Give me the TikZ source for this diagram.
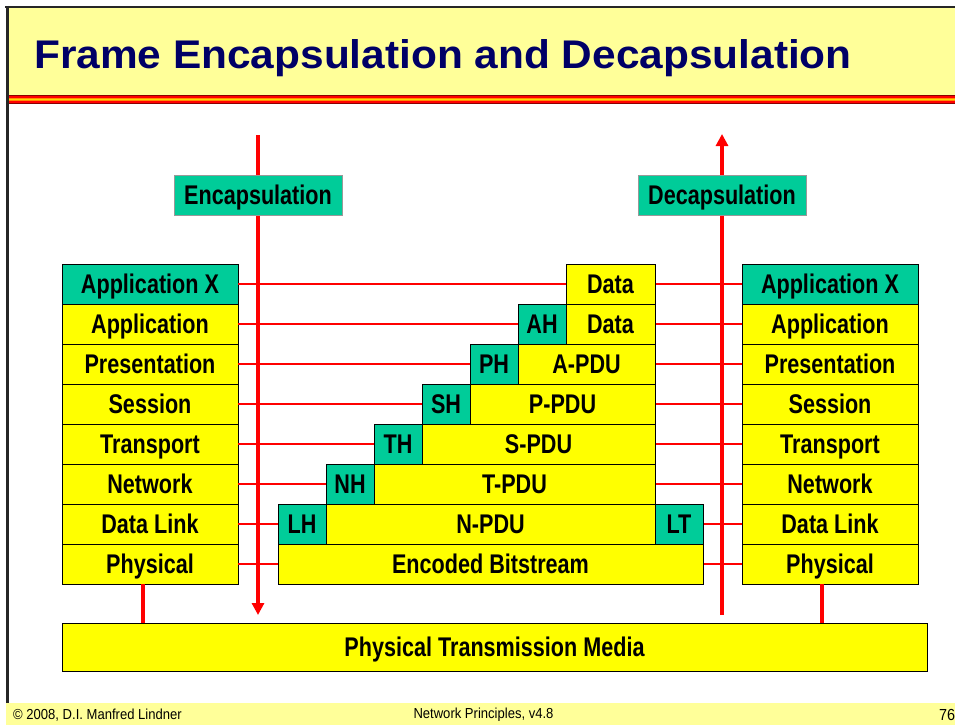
\documentclass[tikz,border=0pt]{standalone}
\usepackage{fontspec}
\usetikzlibrary{arrows.meta}
\newfontfamily\titlefont[FakeStretch=1.06]{Liberation Sans}
\newfontfamily\narfont[FakeStretch=0.8]{Liberation Sans}
\newfontfamily\footfont[FakeStretch=0.9]{Liberation Sans}
\definecolor{ybox}{HTML}{FFFF00}
\definecolor{tealbox}{HTML}{00CC99}
\definecolor{paleyellow}{HTML}{FFFF99}
\definecolor{navytitle}{HTML}{000066}
\definecolor{darkred}{HTML}{8B0000}
\definecolor{stripeorange}{HTML}{FF8C00}
\definecolor{stripeyellow}{HTML}{FFD700}
\tikzset{
  cellbase/.style={draw=black, line width=1pt, inner sep=0pt, outer sep=0pt,
    minimum height=40pt, text height=24.4pt, text depth=5pt,
    font=\narfont\bfseries\fontsize{27}{30}\selectfont, text=black},
  ycell/.style={cellbase, fill=ybox},
  tcell/.style={cellbase, fill=tealbox},
  labelbox/.style={cellbase, fill=tealbox, draw=black!40},
  thinlink/.style={draw=red, line width=1.3pt},
  flowarrow/.style={draw=red, line width=4pt, -{Triangle[width=12pt,length=12pt]}},
  medialink/.style={draw=red, line width=4pt},
  foottext/.style={font=\footfont\fontsize{14.5}{16}\selectfont, text=black, inner sep=0pt}
}
\begin{document}
\begin{tikzpicture}[x=1pt,y=-1pt]
\useasboundingbox (0,0) rectangle (955,725);
% frame
\fill[white] (0,0) rectangle (955,725);
\fill[paleyellow] (8,8) rectangle (955,95);
\fill[darkred] (8,95) rectangle (955,96.2);
\fill[red] (8,96.2) rectangle (955,97.6);
\fill[stripeorange] (8,97.6) rectangle (955,98.8);
\fill[stripeyellow] (8,98.8) rectangle (955,100);
\fill[stripeorange] (8,100) rectangle (955,101.2);
\fill[red] (8,101.2) rectangle (955,102.6);
\fill[darkred] (8,102.6) rectangle (955,103.8);
\fill[paleyellow] (6,703) rectangle (955,725);
\draw[black!85, line width=2.5pt] (5,7) -- (955,7);
\draw[black!85, line width=3pt] (7,6) -- (7,703);
\node[anchor=base west, inner sep=0pt, text=navytitle, font=\titlefont\bfseries\fontsize{40}{44}\selectfont] (title) at (34,68) {Frame Encapsulation and Decapsulation};
% footer
\node[foottext, anchor=west] (fl) at (13,715) {© 2008, D.I. Manfred Lindner};
\node[foottext] (fm) at (483.5,715) {Network Principles, v4.8};
\node[foottext, anchor=west, font=\footfont\fontsize{16}{18}\selectfont] (fr) at (939,715) {76};

% left stack
\node[tcell, minimum width=176pt] (lapx) at (150,284) {Application X};
\node[ycell, minimum width=176pt] (lapp) at (150,324) {Application};
\node[ycell, minimum width=176pt] (lpre) at (150,364) {Presentation};
\node[ycell, minimum width=176pt] (lses) at (150,404) {Session};
\node[ycell, minimum width=176pt] (ltra) at (150,444) {Transport};
\node[ycell, minimum width=176pt] (lnet) at (150,484) {Network};
\node[ycell, minimum width=176pt] (ldat) at (150,524) {Data Link};
\node[ycell, minimum width=176pt] (lphy) at (150,564) {Physical};
% right stack
\node[tcell, minimum width=176pt] (rapx) at (830,284) {Application X};
\node[ycell, minimum width=176pt] (rapp) at (830,324) {Application};
\node[ycell, minimum width=176pt] (rpre) at (830,364) {Presentation};
\node[ycell, minimum width=176pt] (rses) at (830,404) {Session};
\node[ycell, minimum width=176pt] (rtra) at (830,444) {Transport};
\node[ycell, minimum width=176pt] (rnet) at (830,484) {Network};
\node[ycell, minimum width=176pt] (rdat) at (830,524) {Data Link};
\node[ycell, minimum width=176pt] (rphy) at (830,564) {Physical};

% horizontal links
\foreach \a/\b in {lapx/rapx,lapp/rapp,lpre/rpre,lses/rses,ltra/rtra,lnet/rnet,ldat/rdat,lphy/rphy}
  \draw[thinlink] (\a.east) -- (\b.west);

% flow arrows
\coordinate (encTop) at (258,135);
\coordinate (encBot) at (258,615);
\coordinate (decBot) at (722,615);
\coordinate (decTop) at (722,134);
\draw[flowarrow] (encTop) -- (encBot);
\draw[flowarrow] (decBot) -- (decTop);
\node[labelbox, minimum width=168pt] (enc) at (258,195) {Encapsulation};
\node[labelbox, minimum width=168pt] (dec) at (722,195) {Decapsulation};

% middle encapsulation stack
\node[ycell, minimum width=89pt] (data1) at (610.5,284) {Data};
\node[tcell, minimum width=48pt] (ah) at (542,324) {AH};
\node[ycell, minimum width=89pt] (data2) at (610.5,324) {Data};
\node[tcell, minimum width=48pt] (ph) at (494,364) {PH};
\node[ycell, minimum width=137pt] (apdu) at (586.5,364) {A-PDU};
\node[tcell, minimum width=48pt] (sh) at (446,404) {SH};
\node[ycell, minimum width=185pt] (ppdu) at (562.5,404) {P-PDU};
\node[tcell, minimum width=48pt] (th) at (398,444) {TH};
\node[ycell, minimum width=233pt] (spdu) at (538.5,444) {S-PDU};
\node[tcell, minimum width=48pt] (nh) at (350,484) {NH};
\node[ycell, minimum width=281pt] (tpdu) at (514.5,484) {T-PDU};
\node[tcell, minimum width=48pt] (lh) at (302,524) {LH};
\node[ycell, minimum width=329pt] (npdu) at (490.5,524) {N-PDU};
\node[tcell, minimum width=48pt] (lt) at (679,524) {LT};
\node[ycell, minimum width=425pt] (bits) at (490.5,564) {Encoded Bitstream};

% media
\node[ycell, minimum width=865pt, minimum height=48pt] (media) at (494.5,647) {Physical Transmission Media};
\draw[medialink] (lphy.south) ++(-7.3,0) coordinate (lpl) -- (lpl |- media.north);
\draw[medialink] (rphy.south) ++(-8,0) coordinate (rpl) -- (rpl |- media.north);
\end{tikzpicture}
\end{document}
